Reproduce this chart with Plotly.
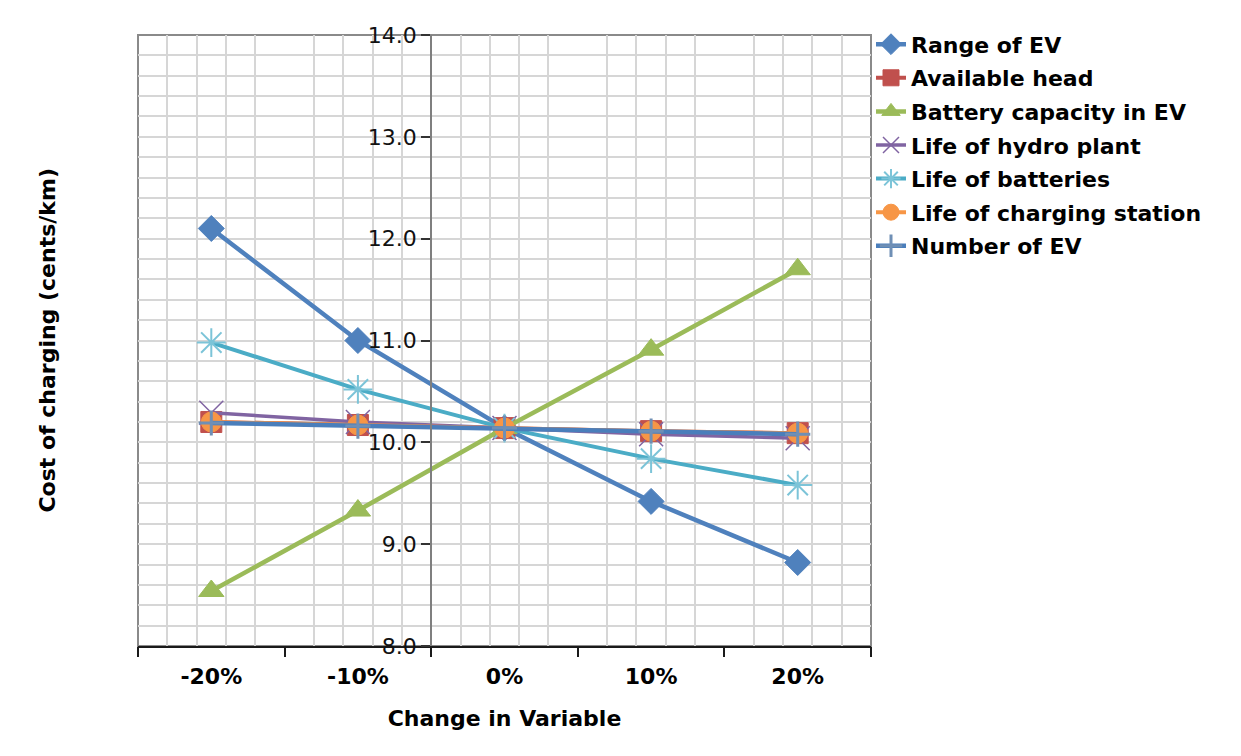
import plotly.graph_objects as go

# Sensitivity of charging cost to a +/-20% change in each input variable
categories = ["-20%", "-10%", "0%", "10%", "20%"]

range_of_ev = [12.10, 11.00, 10.14, 9.42, 8.82]
available_head = [10.20, 10.17, 10.14, 10.11, 10.09]
battery_capacity = [8.54, 9.33, 10.14, 10.91, 11.70]
life_hydro_plant = [10.29, 10.20, 10.14, 10.08, 10.04]
life_batteries = [10.98, 10.52, 10.14, 9.84, 9.58]
life_charging_station = [10.20, 10.17, 10.14, 10.11, 10.09]
number_of_ev = [10.19, 10.16, 10.14, 10.11, 10.08]

y_ticks = [8.0, 9.0, 10.0, 11.0, 12.0, 13.0, 14.0]

positions = list(range(len(categories)))
n = len(categories)

series = [
    dict(name="Range of EV", values=range_of_ev, color="#4F81BD", width=4.5,
         marker=dict(symbol="diamond", size=20, color="#4F81BD",
                     line=dict(color="#4F81BD", width=1))),
    dict(name="Available head", values=available_head, color="#C0504D", width=4,
         marker=dict(symbol="square", size=21, color="#C0504D",
                     line=dict(color="#C0504D", width=1))),
    dict(name="Battery capacity in EV", values=battery_capacity, color="#9BBB59", width=4.5,
         marker=dict(symbol="triangle-up", size=22, color="#9BBB59",
                     line=dict(color="#9BBB59", width=1))),
    dict(name="Life of hydro plant", values=life_hydro_plant, color="#8064A2", width=3.5,
         marker=dict(symbol="x-thin-open", size=24, color="#8064A2",
                     line=dict(color="#8064A2", width=1.5))),
    dict(name="Life of batteries", values=life_batteries, color="#4BACC6", width=4,
         marker=dict(symbol="asterisk-open", size=24, color="#7CC4D8",
                     line=dict(color="#7CC4D8", width=2))),
    dict(name="Life of charging station", values=life_charging_station, color="#F79646", width=4,
         marker=dict(symbol="circle", size=20, color="#F79646",
                     line=dict(color="#F79646", width=1))),
    dict(name="Number of EV", values=number_of_ev, color="#4A7EBB", width=4.5,
         marker=dict(symbol="cross-thin-open", size=18, color="#6F8FB5",
                     line=dict(color="#6F8FB5", width=3))),
]

fig = go.Figure()

for i, s in enumerate(series):
    fig.add_trace(go.Scatter(
        x=positions,
        y=s["values"],
        name=s["name"],
        mode="lines+markers",
        line=dict(color=s["color"], width=s["width"]),
        marker=s["marker"],
        legendgroup=f"g{i}",
    ))

# companion axis carrying the category boundary tick marks
fig.add_trace(go.Scatter(x=[], y=[], xaxis="x2", yaxis="y",
                         showlegend=False, hoverinfo="skip"))

boundaries = [i - 0.5 for i in range(n + 1)]
minor_x = [c + d for c in positions for d in (-0.3, -0.1, 0.1, 0.3)]

grid_color = "#D6D6D6"
tick_font = dict(family="DejaVu Sans", size=22, color="#111111")
bold_font = dict(family="DejaVu Sans", size=22, color="#000000", weight="bold")

fig.update_layout(
    width=1241,
    height=756,
    margin=dict(l=138, r=370, t=35, b=110),
    paper_bgcolor="white",
    plot_bgcolor="white",
    xaxis=dict(
        domain=[0, 1],
        range=[-0.5, n - 0.5],
        tickmode="array",
        tickvals=positions,
        ticktext=categories,
        ticks="outside",
        ticklen=10,
        tickcolor="rgba(0,0,0,0)",
        tickfont=bold_font,
        showgrid=False,
        zeroline=False,
        showline=True,
        linecolor="#1a1a1a",
        linewidth=2,
        minor=dict(tickmode="array", tickvals=minor_x, showgrid=True,
                   gridcolor=grid_color, gridwidth=2, ticks=""),
        title=dict(text="Change in Variable", font=bold_font, standoff=22),
        fixedrange=True,
    ),
    xaxis2=dict(
        overlaying="x",
        anchor="y",
        side="bottom",
        range=[-0.5, n - 0.5],
        tickmode="array",
        tickvals=boundaries,
        ticks="outside",
        ticklen=10,
        tickwidth=2,
        tickcolor="#1a1a1a",
        showticklabels=False,
        showgrid=False,
        zeroline=False,
        showline=False,
    ),
    yaxis=dict(
        range=[8, 14],
        anchor="free",
        position=0.4,
        tickmode="array",
        tickvals=y_ticks,
        tickformat=".1f",
        ticks="outside",
        ticklen=9,
        tickwidth=2,
        tickcolor="#333333",
        tickfont=tick_font,
        showgrid=False,
        zeroline=False,
        showline=True,
        linecolor="#7F7F7F",
        linewidth=2,
        minor=dict(dtick=0.2, showgrid=True, gridcolor=grid_color,
                   gridwidth=2, ticks=""),
        fixedrange=True,
    ),
    legend=dict(
        x=1.0,
        xanchor="left",
        y=1.019,
        yanchor="top",
        font=bold_font,
        tracegroupgap=2,
        bgcolor="rgba(0,0,0,0)",
        itemsizing="trace",
    ),
    showlegend=True,
    annotations=[
        dict(
            text="Cost of charging (cents/km)",
            xref="paper", yref="paper",
            x=-0.124, y=0.5,
            xanchor="center", yanchor="middle",
            textangle=-90,
            showarrow=False,
            font=dict(family="DejaVu Sans", size=22, color="#000000", weight="bold"),
        )
    ],
    shapes=[
        dict(type="rect", xref="paper", yref="paper", x0=0, x1=1, y0=0, y1=1,
             line=dict(color="#8A8A8A", width=2), layer="below"),
    ],
)

fig.write_html("out.html")
